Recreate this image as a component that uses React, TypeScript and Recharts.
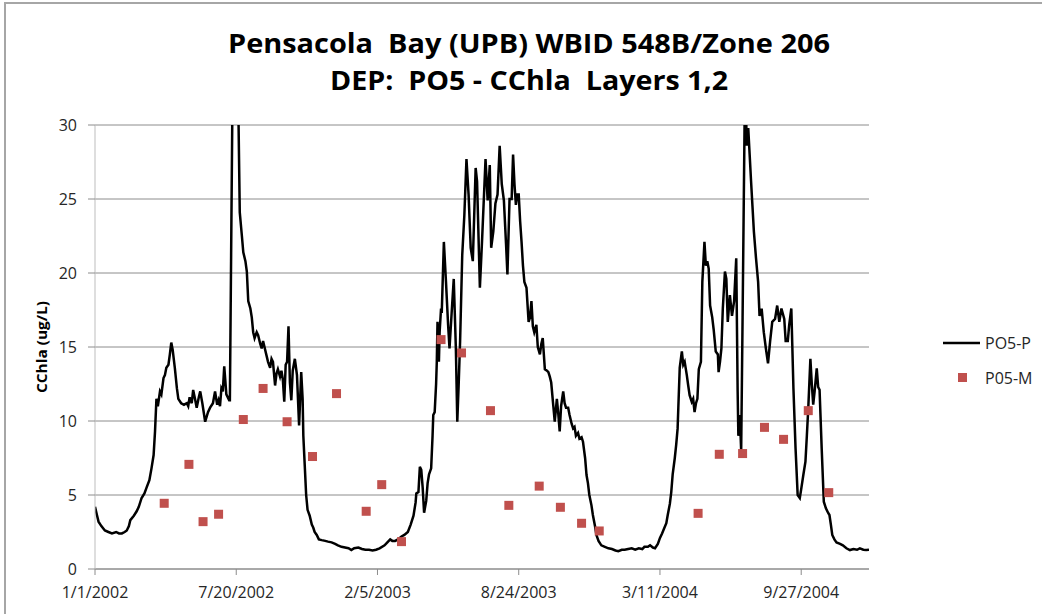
import React from 'react';
import { ComposedChart, Line, Scatter, XAxis, YAxis, CartesianGrid } from 'recharts';

// Days since 1/1/2002 and model values (PO5-P)
const pDays = [0,3,5,9,14,19,24,30,34,38,42,45,48,50,55,59,62,66,70,73,77,80,83,85,87,89,92,94,97,99,101,104,106,108,110,113,116,118,122,126,130,132,134,137,139,142,144,147,149,152,156,160,163,167,170,173,175,177,179,181,183,186,190,191,197,199,205,208,210,213,215,217,220,222,224,226,229,231,234,236,238,240,243,245,248,250,252,255,257,259,262,264,266,268,270,272,274,276,278,280,283,286,289,292,294,295,297,299,301,304,307,309,311,314,317,321,326,330,335,340,344,349,354,359,363,367,373,378,383,388,393,398,403,410,414,418,421,425,429,434,438,443,447,451,454,455,458,460,462,464,466,469,471,473,476,478,479,481,483,484,485,487,488,490,491,494,497,500,502,505,508,511,513,515,517,520,523,526,529,532,535,539,541,545,548,553,556,559,561,564,567,570,573,576,579,582,584,587,590,592,594,596,598,600,602,604,606,608,611,614,616,618,620,622,625,627,630,632,634,637,640,642,644,646,649,651,654,656,658,660,663,665,667,670,672,675,677,679,681,684,686,689,691,694,696,698,700,703,705,708,710,713,717,722,727,732,737,741,746,750,755,760,765,770,775,778,783,786,790,793,797,800,803,806,809,811,814,816,818,821,823,825,826,828,831,833,835,838,840,842,845,847,849,851,853,855,858,860,863,865,867,869,871,874,876,879,882,883,885,887,889,892,894,896,899,902,905,908,910,911,913,915,917,920,922,923,925,927,929,931,933,936,939,941,944,947,950,953,956,959,963,966,969,972,976,978,981,983,986,989,992,995,998,1000,1003,1006,1008,1010,1013,1015,1017,1019,1022,1024,1026,1029,1032,1035,1038,1040,1042,1044,1047,1050,1055,1059,1064,1069,1074,1079,1083,1088,1092,1096];
const pValues = [4.2,3.6,3.2,2.9,2.6,2.5,2.4,2.5,2.4,2.4,2.5,2.6,2.9,3.3,3.6,3.9,4.2,4.8,5.1,5.5,6.0,6.8,7.7,9.3,11.5,11.0,12.0,11.8,12.9,13.1,13.6,13.8,14.5,15.3,14.8,13.6,12.2,11.5,11.2,11.1,11.2,11.0,11.6,11.2,12.1,11.4,10.9,11.6,12.0,11.2,9.95,10.6,10.9,11.2,12.0,11.1,11.4,11.0,12.2,12.0,13.7,11.8,11.4,11.4,45,45,24.1,22.5,21.4,20.8,20.1,18.1,17.6,17.0,16.0,15.6,16.0,15.8,15.2,14.9,15.4,15.0,14.4,14.0,13.6,14.2,14.0,12.4,13.2,13.5,13.0,13.4,12.8,11.3,13.8,14.0,16.4,12.6,11.4,13.4,14.2,13.1,9.7,13.3,11.5,9.0,7.0,5.0,4.0,3.6,3.0,2.8,2.5,2.3,2.0,1.95,1.9,1.85,1.8,1.7,1.6,1.5,1.45,1.4,1.28,1.4,1.45,1.35,1.3,1.3,1.25,1.3,1.4,1.6,1.8,2.0,1.9,1.9,2.0,2.2,2.3,2.5,3.0,3.6,4.5,5.1,5.2,6.9,6.7,5.5,3.8,4.6,5.8,6.4,6.8,9.0,10.4,10.6,12.5,14.0,16.7,14.0,16.0,17.6,17.3,22.1,19.4,16.5,14.9,17.3,19.6,14.9,9.95,12.5,15.4,21.2,23.9,27.7,25.3,21.7,20.8,27.1,26.2,19.0,22.1,27.7,24.9,27.3,21.7,22.8,24.7,25.3,28.6,26.0,24.9,22.0,19.9,25.0,25.0,28.0,26.0,24.6,25.3,25.3,23.5,22.1,20.5,19.4,19.0,16.7,17.0,18.1,16.4,16.0,16.5,15.0,14.5,15.2,15.6,13.5,13.4,13.3,13.0,12.6,11.0,9.95,11.5,10.5,9.3,11.0,12.0,11.2,10.9,10.9,10.4,9.8,9.5,9.6,9.0,9.2,8.8,8.9,8.6,7.5,6.35,5.8,5.0,4.3,3.65,2.9,2.3,1.9,1.6,1.5,1.4,1.35,1.25,1.2,1.3,1.3,1.35,1.4,1.3,1.4,1.35,1.5,1.5,1.6,1.45,1.4,1.7,2.1,2.4,2.75,3.1,3.65,4.4,5.2,6.4,7.5,8.4,9.5,10.9,13.6,14.7,13.8,14.0,13.1,12.4,11.75,11.3,11.5,10.6,11.2,11.5,13.5,14.0,19.4,22.1,20.5,20.8,20.3,17.8,17.0,16.2,14.7,14.5,13.3,14.0,14.9,17.6,20.1,19.6,16.7,18.5,17.1,18.1,21.0,12.0,9.0,10.4,8.0,17.0,31.0,30.5,28.6,29.8,28.0,26.2,24.5,22.8,21.0,19.4,17.1,17.6,16.0,14.9,13.9,15.4,16.7,16.9,17.8,16.7,17.6,16.9,15.4,15.4,16.5,17.6,12.2,8.15,5.0,4.8,5.4,6.35,7.25,9.0,10.85,14.2,12.5,11.1,12.0,13.55,12.3,12.1,8.15,4.55,4.1,3.8,3.65,3.0,2.3,2.0,1.8,1.7,1.6,1.4,1.28,1.35,1.3,1.4,1.3,1.28,1.3];

// Measured values (P05-M)
const mDays = [98,133,153,175,210,238,272,308,342,384,406,434,490,519,560,586,629,659,689,714,854,884,917,948,975,1010,1039];
const mValues = [4.44,7.07,3.2,3.7,10.1,12.2,9.95,7.6,11.85,3.9,5.7,1.85,15.5,14.6,10.7,4.3,5.6,4.17,3.09,2.57,3.76,7.75,7.8,9.57,8.76,10.7,5.16];

const tickDays = [0, 200, 400, 600, 800, 1000];
const tickLabels = ['1/1/2002', '7/20/2002', '2/5/2003', '8/24/2003', '3/11/2004', '9/27/2004'];
const yTicks = [0, 5, 10, 15, 20, 25, 30];

const titleLines = ['Pensacola  Bay (UPB) WBID 548B/Zone 206', 'DEP:  PO5 - CChla  Layers 1,2'];
const seriesNames = ['PO5-P', 'P05-M'];
const yLabel = 'CChla (ug/L)';

const lineData = pDays.map((d, i) => ({ day: d, v: pValues[i] }));
const markerData = mDays.map((d, i) => ({ day: d, v: mValues[i] }));

const FONT = '"Open Sans", "Noto Sans", sans-serif';
const RED = '#C0504D';

const Square = (props: any) => {
  const { cx, cy } = props;
  if (cx == null || cy == null) return null;
  return <rect x={cx - 4.5} y={cy - 4.5} width={9} height={9} fill={RED} />;
};

export default function App() {
  return (
    <div style={{ position: 'absolute', left: 0, top: 0, width: 1042, height: 614, overflow: 'hidden', background: '#fff' }}>
      <div style={{ position: 'absolute', left: 4, top: 2, width: 1200, height: 800, border: '2px solid #a6a6a6', boxSizing: 'border-box' }} />
      <div style={{ position: 'absolute', left: 0, top: 0 }}>
        <ComposedChart width={1042} height={614} margin={{ top: 125, right: 173, bottom: 0, left: 0 }}>
          <CartesianGrid horizontal vertical={false} stroke="#8c8c8c" strokeWidth={1} />
          <XAxis
            dataKey="day"
            type="number"
            domain={[0, 1096]}
            ticks={tickDays}
            tickFormatter={(d: number) => tickLabels[tickDays.indexOf(d)] ?? ''}
            height={45}
            tickSize={6}
            tickMargin={12}
            axisLine={{ stroke: '#8c8c8c' }}
            tickLine={{ stroke: '#8c8c8c' }}
            tick={{ fill: '#262626', fontSize: 16, fontFamily: FONT }}
            allowDataOverflow
          />
          <YAxis
            dataKey="v"
            type="number"
            domain={[0, 30]}
            ticks={yTicks}
            width={95}
            tickSize={7}
            tickMargin={11}
            axisLine={{ stroke: '#bdbdbd' }}
            tickLine={{ stroke: '#8c8c8c' }}
            tick={{ fill: '#262626', fontSize: 16, fontFamily: FONT }}
            allowDataOverflow
          />
          <Line
            data={lineData}
            dataKey="v"
            type="linear"
            stroke="#000"
            strokeWidth={2.5}
            dot={false}
            activeDot={false}
            isAnimationActive={false}
            name={seriesNames[0]}
          />
          <Scatter
            data={markerData}
            dataKey="v"
            fill={RED}
            shape={Square}
            isAnimationActive={false}
            name={seriesNames[1]}
          />
          <text x={529} y={53} textAnchor="middle" fontFamily={FONT} fontWeight="bold" fontSize={26} fill="#000" textLength={602} lengthAdjust="spacingAndGlyphs" style={{ whiteSpace: 'pre' }}>
            {titleLines[0]}
          </text>
          <text x={529} y={90} textAnchor="middle" fontFamily={FONT} fontWeight="bold" fontSize={26} fill="#000" textLength={398} lengthAdjust="spacingAndGlyphs" style={{ whiteSpace: 'pre' }}>
            {titleLines[1]}
          </text>
          <text x={47} y={347} transform="rotate(-90 47 347)" textAnchor="middle" fontFamily={FONT} fontWeight="bold" fontSize={14} fill="#000" textLength={92} lengthAdjust="spacingAndGlyphs">
            {yLabel}
          </text>
          <g>
            <line x1={943} y1={343} x2={980} y2={343} stroke="#000" strokeWidth={2.5} />
            <text x={985} y={349} fontFamily={FONT} fontSize={16} fill="#262626">{seriesNames[0]}</text>
            <rect x={958} y={373} width={9} height={9} fill={RED} />
            <text x={985} y={384} fontFamily={FONT} fontSize={16} fill="#262626">{seriesNames[1]}</text>
          </g>
        </ComposedChart>
      </div>
    </div>
  );
}
